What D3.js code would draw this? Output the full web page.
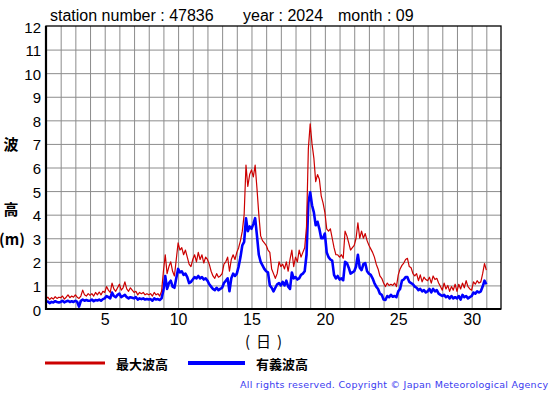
<!DOCTYPE html>
<html>
<head>
<meta charset="utf-8">
<script src="https://cdn.jsdelivr.net/npm/d3@7"></script>
<style>
  body { margin: 0; background: #fff; }
</style>
</head>
<body>
<script>
var station = '47836', year = '2024', month = '09';
var dayTicks = [5, 10, 15, 20, 25, 30];
var heightTicks = [0, 1, 2, 3, 4, 5, 6, 7, 8, 9, 10, 11, 12];
var legendNames = ['最大波高', '有義波高'];

// 3-hourly readings, starting 1st 00h (8 per day, last one = 31st 00h)
var maxWave = [
    0.45, 0.5, 0.4, 0.48, 0.42, 0.52, 0.45, 0.5,
    0.48, 0.55, 0.42, 0.5, 0.6, 0.48, 0.55, 0.5,
    0.6, 0.5, 0.45, 0.55, 0.8, 0.6, 0.55, 0.65,
    0.58, 0.65, 0.55, 0.7, 0.6, 0.72, 0.6, 0.75,
    0.7, 0.95, 0.8, 0.7, 1.1, 0.85, 0.75, 0.9,
    1.05, 0.8, 0.9, 1.15, 0.85, 0.75, 0.9, 0.8,
    0.7, 0.75, 0.6, 0.7, 0.65, 0.7, 0.6, 0.65,
    0.6, 0.65, 0.55, 0.7, 0.6, 0.65, 0.55, 0.75,
    1.6, 2.3, 1.5, 1.8, 2.0, 1.6, 1.4, 2.1,
    2.8, 2.5, 2.6, 2.3, 2.5, 2.2, 1.9, 1.8,
    2.1, 2.3, 2.0, 2.4, 2.1, 2.3, 1.95, 2.2,
    2.1, 1.9, 1.6, 1.4, 1.3, 1.5, 1.35, 1.4,
    1.5, 1.9, 2.0, 2.2, 1.6, 2.1, 2.3, 2.1,
    2.4, 2.6, 2.9, 3.3, 4.0, 6.1, 5.2, 5.7,
    5.9, 5.6, 6.1, 5.1, 4.0, 3.1, 2.9, 2.8,
    2.7, 2.5, 2.4, 1.7, 1.5, 1.3, 1.5, 2.0,
    1.8, 1.9, 1.7, 2.0, 1.6, 2.1, 2.5, 1.8,
    2.2, 2.0, 2.5, 2.2, 2.4, 2.6, 3.5, 6.8,
    7.85, 7.0, 6.4, 5.4, 5.7, 5.5, 4.8, 4.5,
    4.1, 3.4, 3.3, 3.4, 3.0, 2.6, 2.3, 2.3,
    2.2, 2.3, 2.15, 3.3, 3.1, 2.8, 2.5, 2.6,
    2.7, 3.0, 3.65, 3.0, 3.3, 3.0, 3.2, 2.9,
    2.7, 2.55, 2.4, 2.2, 1.9, 1.7, 1.4, 1.3,
    1.1, 0.95, 1.1, 1.0, 1.05, 1.0, 1.1, 0.95,
    1.45, 1.7, 1.85, 1.95, 2.1, 2.15, 1.8, 1.75,
    1.5, 1.4, 1.5, 1.2, 1.45, 1.15, 1.35, 1.25,
    1.2, 1.35, 1.1, 1.4, 1.25, 1.3, 1.1, 0.95,
    0.8, 1.1, 0.85, 1.0, 0.75, 0.95, 0.8, 1.05,
    0.75, 1.05, 0.85, 1.1, 0.9, 1.2, 0.95, 0.85,
    0.8, 1.15, 1.05, 1.2, 1.1, 1.15, 1.5, 1.93,
    1.65
];
var sigWave = [
    0.3, 0.32, 0.25, 0.3, 0.28, 0.33, 0.3, 0.28,
    0.3, 0.35, 0.28, 0.32, 0.35, 0.3, 0.33, 0.3,
    0.35, 0.3, 0.1, 0.35, 0.4, 0.35, 0.38, 0.35,
    0.35, 0.4, 0.33, 0.38, 0.36, 0.4, 0.35, 0.42,
    0.45, 0.55, 0.5, 0.45, 0.7, 0.55, 0.5, 0.6,
    0.65, 0.5, 0.55, 0.6, 0.5, 0.45, 0.5, 0.48,
    0.45, 0.5, 0.4, 0.45, 0.42, 0.45, 0.4, 0.42,
    0.4, 0.42, 0.35, 0.45, 0.4, 0.42, 0.38, 0.45,
    0.8, 1.4, 0.85, 1.1, 1.2, 0.95, 0.9, 1.3,
    1.7, 1.55, 1.6, 1.45, 1.5, 1.35, 1.1, 1.15,
    1.25, 1.35, 1.3, 1.4, 1.3, 1.35, 1.25, 1.3,
    1.2, 1.05, 0.95, 0.85, 0.8, 0.9, 0.8, 0.85,
    0.9, 1.1, 1.2, 1.3, 0.75, 1.3, 1.5, 1.4,
    1.5, 1.8, 2.2, 2.7, 2.85, 3.85, 3.3, 3.5,
    3.4, 3.6, 3.85, 3.1, 2.3, 2.0, 1.85, 1.7,
    1.6, 1.55, 1.0, 0.9, 0.75, 0.9, 1.05, 1.1,
    1.0, 1.15, 1.0, 1.2, 0.95, 0.85, 1.55, 1.3,
    1.35, 1.25, 1.3, 1.45, 1.5, 1.6, 2.3, 4.5,
    4.95, 4.4, 4.1, 3.55, 3.7, 3.4, 3.0, 3.0,
    3.2, 2.4, 2.2, 2.1, 2.05, 1.45, 1.3, 1.4,
    1.25, 1.3, 1.22, 2.0, 1.95, 1.75, 1.5, 1.55,
    1.6, 1.8, 2.3, 1.75, 1.65, 1.9, 1.95, 1.6,
    1.5, 1.45, 1.3, 1.1, 0.95, 0.85, 0.65, 0.6,
    0.4, 0.38, 0.55, 0.5, 0.6, 0.52, 0.55, 0.5,
    0.75, 0.85, 1.2, 1.25, 1.35, 1.35, 1.15, 1.1,
    1.05, 0.95, 0.9, 0.8, 0.85, 0.75, 0.8, 0.7,
    0.75, 0.85, 0.7, 0.85, 0.75, 0.8, 0.65, 0.6,
    0.55, 0.6, 0.5, 0.55, 0.45, 0.55, 0.45, 0.5,
    0.45, 0.55, 0.4, 0.6, 0.5, 0.55, 0.45, 0.5,
    0.55, 0.7, 0.65, 0.75, 0.7, 0.75, 0.95, 1.2,
    1.05
];

var colorMax = '#cc0000',
    colorSig = '#0000ff',
    colorGrid = '#8c8c8c';

var width = 555, height = 395;
var plotL = 46, plotR = 501, plotT = 26, plotB = 309;

var svg = d3.select('body')
        .append('svg')
        .attr('width', width)
        .attr('height', height)
        .style('font-family', '"Liberation Sans", Arial, sans-serif');

var x = d3.scaleLinear().domain([1, 32]).range([plotL, plotR]);
var y = d3.scaleLinear().domain([0, 12]).range([plotB, plotT]);

// Grid lines
svg.append('g')
        .attr('transform', 'translate(0,' + plotB + ')')
        .call(d3.axisBottom(x).tickValues(d3.range(2, 32)).tickSize(-(plotB - plotT)).tickFormat(''))
        .call(function(g) {
            g.select('.domain').remove();
            g.selectAll('line').attr('stroke', colorGrid).attr('stroke-width', 1);
        });
svg.append('g')
        .attr('transform', 'translate(' + plotL + ',0)')
        .call(d3.axisLeft(y).tickValues(heightTicks.slice(1, -1)).tickSize(-(plotR - plotL)).tickFormat(''))
        .call(function(g) {
            g.select('.domain').remove();
            g.selectAll('line').attr('stroke', colorGrid).attr('stroke-width', 1);
        });

// Series
var times = function(i) { return 1 + i / 8; };
var line = d3.line()
        .x(function(d, i) { return x(times(i)); })
        .y(function(d) { return y(d); });

svg.append('path')
        .datum(sigWave)
        .attr('d', line)
        .attr('fill', 'none')
        .attr('stroke', colorSig)
        .attr('stroke-width', 2.6)
        .attr('stroke-linejoin', 'round');
svg.append('path')
        .datum(maxWave)
        .attr('d', line)
        .attr('fill', 'none')
        .attr('stroke', colorMax)
        .attr('stroke-width', 1.2)
        .attr('stroke-linejoin', 'round');

// Frame
svg.append('rect')
        .attr('x', plotL)
        .attr('y', plotT)
        .attr('width', plotR - plotL)
        .attr('height', plotB - plotT)
        .attr('fill', 'none')
        .attr('stroke', '#000')
        .attr('stroke-width', 1.3);
svg.append('path')
        .attr('d', 'M' + plotL + ',' + plotT + 'V' + plotB + 'H' + plotR)
        .attr('fill', 'none')
        .attr('stroke', '#000')
        .attr('stroke-width', 2.2);

// Tick labels
var yAxis = svg.append('g')
        .attr('transform', 'translate(' + (plotL - 5) + ',0)')
        .call(d3.axisLeft(y).tickValues(heightTicks).tickSize(0).tickPadding(0))
        .call(function(g) { g.select('.domain').remove(); });
yAxis.selectAll('text')
        .attr('fill', '#000')
        .attr('dy', '0.4em')
        .style('font-size', '15px')
        .style('font-family', '"Liberation Sans", Arial, sans-serif');

var xAxis = svg.append('g')
        .attr('transform', 'translate(0,' + plotB + ')')
        .call(d3.axisBottom(x).tickValues(dayTicks).tickSize(0).tickPadding(3))
        .call(function(g) { g.select('.domain').remove(); });
xAxis.selectAll('text')
        .attr('fill', '#000')
        .attr('dy', '0.8em')
        .style('font-size', '16px')
        .style('font-family', '"Liberation Sans", Arial, sans-serif');

// Header
svg.append('text').attr('x', 50).attr('y', 21).style('font-size', '16px')
        .text('station number : ' + station);
svg.append('text').attr('x', 243).attr('y', 21).style('font-size', '16px')
        .text('year : ' + year);
svg.append('text').attr('x', 338).attr('y', 21).style('font-size', '16px')
        .text('month : ' + month);

// Axis titles
var cjk = '"Noto Sans CJK JP", sans-serif';
[['波', 11, 143], ['高', 11, 208], ['(m)', 12, 238]].forEach(function(t) {
    svg.append('text')
            .attr('x', t[1])
            .attr('y', t[2])
            .attr('text-anchor', 'middle')
            .attr('dominant-baseline', 'central')
            .style('font-family', cjk)
            .style('font-weight', 'bold')
            .style('font-size', '15px')
            .text(t[0]);
});
svg.append('text')
        .attr('x', 245)
        .attr('y', 340)
        .attr('dominant-baseline', 'central')
        .style('font-family', cjk)
        .style('font-size', '15px')
        .style('letter-spacing', '6px')
        .text('(日)');

// Legend
var legend = [
    {name: legendNames[0], color: colorMax, x0: 45, x1: 105, w: 3},
    {name: legendNames[1], color: colorSig, x0: 188, x1: 245, w: 4}
];
legend.forEach(function(l) {
    svg.append('line')
            .attr('x1', l.x0).attr('x2', l.x1)
            .attr('y1', 363).attr('y2', 363)
            .attr('stroke', l.color)
            .attr('stroke-width', l.w);
    svg.append('text')
            .attr('x', l.x1 + 11)
            .attr('y', 363)
            .attr('dominant-baseline', 'central')
            .style('font-family', cjk)
            .style('font-weight', 'bold')
            .style('font-size', '13px')
            .text(l.name);
});

svg.append('text')
        .attr('x', 240)
        .attr('y', 388)
        .attr('textLength', 308)
        .attr('lengthAdjust', 'spacing')
        .attr('fill', '#3b3bf0')
        .style('font-family', '"DejaVu Sans", sans-serif')
        .style('font-size', '9.5px')
        .text('All rights reserved. Copyright \u00a9 Japan Meteorological Agency');
</script>
</body>
</html>
